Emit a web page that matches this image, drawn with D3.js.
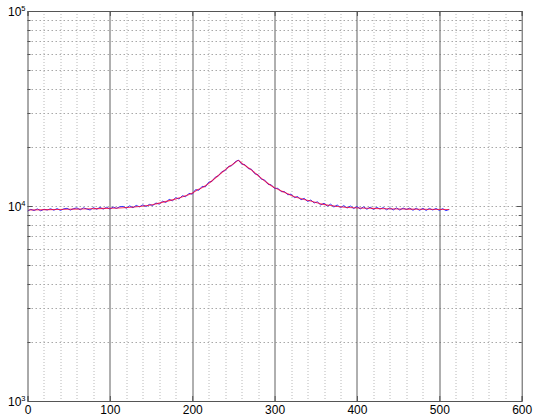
<!DOCTYPE html>
<html>
<head>
<meta charset="utf-8">
<script src="https://cdn.jsdelivr.net/npm/d3@7"></script>
<style>
    body { margin: 0; background: #fff; }
    #chart { width: 534px; height: 416px; }
    text { font-family: "Liberation Sans", Arial, sans-serif; fill: #000; }
</style>
</head>
<body>
<div id="chart"></div>
<script>
// Noisy measured curve, one value every 4 samples (x = 0, 4, ..., 512)
const blueStep = 4;
const blueValues = [
    9420, 9610, 9480, 9660, 9450, 9620, 9540, 9680,
    9520, 9700, 9490, 9670, 9730, 9530, 9700, 9780,
    9560, 9790, 9650, 9540, 9810, 9620, 9830, 9640,
    9850, 9640, 9880, 9720, 9910, 9950, 9740, 10020,
    9800, 10070, 9900, 10130, 9940, 10190, 10060, 10360,
    10220, 10590, 10430, 10810, 10640, 11030, 10860, 11290,
    11150, 11610, 11500, 12130, 12040, 12610, 12540, 13250,
    13380, 14050, 14300, 15000, 15200, 15950, 16100, 16820,
    17200, 16420, 16280, 15560, 15420, 14630, 14450, 13720,
    13580, 12930, 12830, 12290, 12330, 11850, 11860, 11420,
    11500, 11030, 11190, 10760, 10950, 10550, 10730, 10370,
    10500, 10120, 10330, 9980, 10220, 9880, 10120, 9810,
    10050, 9760, 10000, 9700, 9940, 9660, 9900, 9620,
    9860, 9600, 9840, 9640, 9820, 9560, 9790, 9540,
    9780, 9530, 9760, 9590, 9750, 9510, 9740, 9500,
    9730, 9490, 9720, 9540, 9710, 9490, 9700, 9470,
    9600
];

// Smooth fitted curve
const redX = [1, 36, 56, 76, 96, 116, 136, 146, 156, 166, 176, 181, 186, 191, 196, 201,
    206, 211, 216, 221, 226, 231, 236, 241, 246, 251, 256,
    261, 266, 271, 276, 281, 286, 291, 296, 301, 306, 311, 316, 321, 326, 331, 336,
    346, 356, 366, 376, 396, 416, 436, 456, 476, 512];
const redValues = [9540, 9600, 9640, 9680, 9720, 9800, 9950, 10050, 10250, 10500, 10750, 10900, 11050, 11250, 11450, 11700,
    12080, 12350, 12700, 13150, 13700, 14250, 14850, 15450, 16040, 16550, 17100,
    16450, 15950, 15400, 14800, 14200, 13650, 13150, 12700, 12350, 12080, 11800, 11550, 11300, 11100, 10950, 10800,
    10550, 10250, 10080, 9950, 9800, 9730, 9680, 9650, 9620, 9600];

// Axis ticks
const xTicks = [0, 100, 200, 300, 400, 500, 600];
const xMinorTicks = [20, 40, 60, 80, 120, 140, 160, 180, 220, 240, 260, 280, 320, 340, 360, 380, 420, 440, 460, 480, 520, 540, 560, 580];
const yTicks = [1e3, 1e4, 1e5];
const yTickExponents = ["3", "4", "5"];
const yMinorTicks = [2e3, 3e3, 4e3, 5e3, 6e3, 7e3, 8e3, 9e3, 2e4, 3e4, 4e4, 5e4, 6e4, 7e4, 8e4, 9e4];

const margin = { top: 11, right: 12.3, bottom: 15, left: 27.5 };
const fullWidth = 534 - margin.left - margin.right;
const fullHeight = 416 - margin.top - margin.bottom;

const svg = d3.select("#chart")
    .append("svg")
    .attr("width", 534)
    .attr("height", 416)
    .append("g")
    .attr("transform", `translate(${margin.left},${margin.top})`);

const x = d3.scaleLinear().domain([0, 600]).range([0, fullWidth]);
const y = d3.scaleLog().domain([1e3, 1e5]).range([fullHeight, 0]);

// Grid lines
const grid = svg.append("g").attr("class", "grid");

grid.selectAll(".vminor")
    .data(xMinorTicks)
    .enter()
    .append("line")
    .attr("x1", d => Math.round(x(d)) + 0.5)
    .attr("x2", d => Math.round(x(d)) + 0.5)
    .attr("y1", 0)
    .attr("y2", fullHeight)
    .attr("stroke", "#b8b8b8")
    .attr("stroke-dasharray", "1,2");

grid.selectAll(".hline")
    .data(yMinorTicks.concat([1e4]))
    .enter()
    .append("line")
    .attr("x1", 0)
    .attr("x2", fullWidth)
    .attr("y1", d => Math.round(y(d)) + 0.5)
    .attr("y2", d => Math.round(y(d)) + 0.5)
    .attr("stroke", "#a8a8a8")
    .attr("stroke-dasharray", "1.5,2.5");

grid.selectAll(".vmajor")
    .data(xTicks.filter(d => d > 0 && d < 600))
    .enter()
    .append("line")
    .attr("x1", d => Math.round(x(d)) + 0.5)
    .attr("x2", d => Math.round(x(d)) + 0.5)
    .attr("y1", 0)
    .attr("y2", fullHeight)
    .attr("stroke", "#606060");

// Data lines
const blueData = blueValues.map((v, i) => ({ x: i * blueStep, v: v }));
const redData = redX.map((xv, i) => ({ x: xv, v: redValues[i] }));

const line = d3.line()
    .x(d => x(d.x))
    .y(d => y(d.v));

svg.append("path")
    .datum(blueData)
    .attr("fill", "none")
    .attr("stroke", "#3030ff")
    .attr("stroke-width", 1)
    .attr("d", line);

svg.append("path")
    .datum(redData)
    .attr("fill", "none")
    .attr("stroke", "#ff0030")
    .attr("stroke-width", 1.1)
    .attr("stroke-opacity", 0.75)
    .attr("d", line.curve(d3.curveMonotoneX));

// Axes box and ticks
const axisColor = "#555";

const xAxis = svg.append("g")
    .attr("transform", `translate(0,${fullHeight})`)
    .call(d3.axisBottom(x).tickValues(xTicks).tickSize(-5).tickPadding(4));
xAxis.select(".domain").attr("stroke", axisColor);
xAxis.selectAll(".tick line").attr("stroke", axisColor);
xAxis.selectAll(".tick text").attr("font-size", 12).attr("fill", "#000");

const xTop = svg.append("g")
    .call(d3.axisTop(x).tickValues(xTicks).tickSize(-5).tickFormat(""));
xTop.select(".domain").attr("stroke", axisColor);
xTop.selectAll(".tick line").attr("stroke", axisColor);

const yAxis = svg.append("g")
    .call(d3.axisLeft(y).tickValues(yTicks).tickSize(-5).tickFormat(""));
yAxis.select(".domain").attr("stroke", axisColor);
yAxis.selectAll(".tick line").attr("stroke", axisColor);

const yRight = svg.append("g")
    .attr("transform", `translate(${fullWidth},0)`)
    .call(d3.axisRight(y).tickValues(yTicks).tickSize(-5).tickFormat(""));
yRight.select(".domain").attr("stroke", axisColor);
yRight.selectAll(".tick line").attr("stroke", axisColor);

// Minor y ticks on both sides
[[0, 3], [fullWidth, -3]].forEach(([x0, len]) => {
    svg.append("g").selectAll("line")
        .data(yMinorTicks)
        .enter()
        .append("line")
        .attr("x1", x0)
        .attr("x2", x0 + len)
        .attr("y1", d => Math.round(y(d)) + 0.5)
        .attr("y2", d => Math.round(y(d)) + 0.5)
        .attr("stroke", axisColor);
});

// Y tick labels as 10 with superscript exponent
const yLabels = svg.append("g");
yTicks.forEach((t, i) => {
    const label = yLabels.append("text")
        .attr("x", -2)
        .attr("y", y(t) + 4.5)
        .attr("text-anchor", "end")
        .attr("font-size", 12);
    label.append("tspan").text("10");
    label.append("tspan")
        .attr("dy", -5)
        .attr("font-size", 7.5)
        .text(yTickExponents[i]);
});
</script>
</body>
</html>
